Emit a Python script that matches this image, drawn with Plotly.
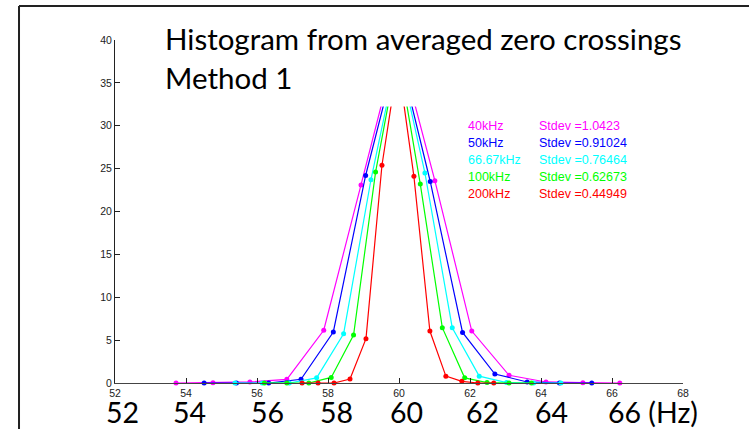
import plotly.graph_objects as go

# Histogram of averaged zero crossings, percentage of samples per bin (Hz)
series_names = ["40kHz", "50kHz", "66.67kHz", "100kHz", "200kHz"]
stdev_labels = ["Stdev =1.0423", "Stdev =0.91024", "Stdev =0.76464", "Stdev =0.62673", "Stdev =0.44949"]
colors = ["#FF00FF", "#0000FF", "#00FFFF", "#00FF00", "#FF0000"]

x_40k = [53.72, 54.76, 55.80, 56.84, 57.88, 58.93, 59.97, 61.01, 62.05, 63.10, 64.14, 65.18, 66.22]
y_40k = [0.0, 0.04, 0.12, 0.43, 6.15, 23.1, 40.0, 23.6, 6.06, 0.9, 0.12, 0.04, 0.0]

x_50k = [54.51, 55.42, 56.33, 57.24, 58.15, 59.06, 59.97, 60.88, 61.79, 62.70, 63.61, 64.52, 65.43]
y_50k = [0.0, 0.0, 0.0, 0.43, 5.95, 24.2, 39.0, 23.5, 5.9, 1.05, 0.12, 0.0, 0.0]

x_66k = [55.38, 56.15, 56.91, 57.68, 58.44, 59.21, 59.97, 60.73, 61.50, 62.26, 63.03, 63.79, 64.56]
y_66k = [0.0, 0.0, 0.0, 0.6, 5.75, 23.7, 38.7, 24.5, 6.45, 0.8, 0.05, 0.0, 0.0]

x_100k = [56.21, 56.84, 57.46, 58.09, 58.72, 59.34, 59.97, 60.60, 61.22, 61.85, 62.48, 63.10, 63.73]
y_100k = [0.0, 0.0, 0.0, 0.65, 5.6, 24.6, 38.5, 23.2, 6.45, 0.6, 0.05, 0.0, 0.0]

x_200k = [57.27, 57.72, 58.17, 58.62, 59.07, 59.52, 59.97, 60.42, 60.87, 61.32, 61.77, 62.22, 62.67]
y_200k = [0.0, 0.0, 0.0, 0.47, 5.17, 25.4, 37.5, 24.1, 6.06, 0.8, 0.2, 0.0, 0.0]

xs = [x_40k, x_50k, x_66k, x_100k, x_200k]
ys = [y_40k, y_50k, y_66k, y_100k, y_200k]

# axis ticks and the large slide labels underneath
x_ticks = [52, 54, 56, 58, 60, 62, 64, 66, 68]
y_ticks = [0, 5, 10, 15, 20, 25, 30, 35, 40]
big_labels = ["52", "54", "56", "58", "60", "62", "64", "66 (Hz)"]
big_label_x = [52.2, 54.1, 56.3, 58.25, 60.2, 62.35, 64.3, 65.82]
legend_y = [30, 28, 26, 24, 22]

fig = go.Figure()
for name, x, y, c in zip(series_names, xs, ys, colors):
    fig.add_trace(go.Scatter(
        x=x, y=y, name=name, mode="lines+markers",
        line=dict(color=c, width=1.2),
        marker=dict(color=c, size=5),
        showlegend=False, cliponaxis=False,
    ))

annotations = []
for name, sd, c, yy in zip(series_names, stdev_labels, colors, legend_y):
    for xx, txt in ((61.9, name), (63.9, sd)):
        annotations.append(dict(
            x=xx, y=yy, xref="x", yref="y", text=txt, showarrow=False,
            xanchor="left", yanchor="middle",
            font=dict(family="Liberation Sans Narrow, Liberation Sans, Arial", size=12.5, color=c),
        ))

for txt, xx in zip(big_labels, big_label_x):
    annotations.append(dict(
        x=xx, y=-0.085, xref="x", yref="paper", text=txt, showarrow=False,
        xanchor="left" if "Hz" in txt else "center", yanchor="middle",
        font=dict(family="Lato, sans-serif", size=28.5, color="black"),
    ))

annotations.append(dict(
    x=0.085, y=1.005, xref="paper", yref="paper", text="Histogram from averaged zero crossings",
    showarrow=False, xanchor="left", yanchor="middle",
    font=dict(family="Lato, sans-serif", size=29.5, color="black"),
))
annotations.append(dict(
    x=0.085, y=0.89, xref="paper", yref="paper", text="Method 1",
    showarrow=False, xanchor="left", yanchor="middle",
    font=dict(family="Lato, sans-serif", size=29.5, color="black"),
))

shapes = [
    # title box (white fill sits over the plot)
    dict(type="rect", xref="paper", yref="paper", x0=0.045, x1=1.1, y0=0.806, y1=1.09,
         fillcolor="white", line=dict(width=0), layer="above"),
    # slide frame
    dict(type="line", xref="paper", yref="paper", x0=-0.169, x1=1.2, y0=1.099, y1=1.099,
         line=dict(color="#222222", width=2)),
    dict(type="line", xref="paper", yref="paper", x0=-0.169, x1=-0.169, y0=-0.2, y1=1.099,
         line=dict(color="#222222", width=2)),
]

tick_font = dict(family="Liberation Sans Narrow, Liberation Sans, Arial", size=10.5, color="#222222")
fig.update_layout(
    width=749, height=429,
    margin=dict(l=115, r=66, t=40, b=46),
    paper_bgcolor="white", plot_bgcolor="white",
    annotations=annotations, shapes=shapes,
    xaxis=dict(range=[52, 68], tickvals=x_ticks, showgrid=False, zeroline=False,
               showline=True, linecolor="#444444", linewidth=1,
               ticks="inside", ticklen=5, tickcolor="#222222", tickfont=tick_font),
    yaxis=dict(range=[0, 40], tickvals=y_ticks, showgrid=False, zeroline=False,
               showline=True, linecolor="#222222", linewidth=1,
               ticks="inside", ticklen=5, tickcolor="#222222", tickfont=tick_font),
)

fig.write_html("out.html")
